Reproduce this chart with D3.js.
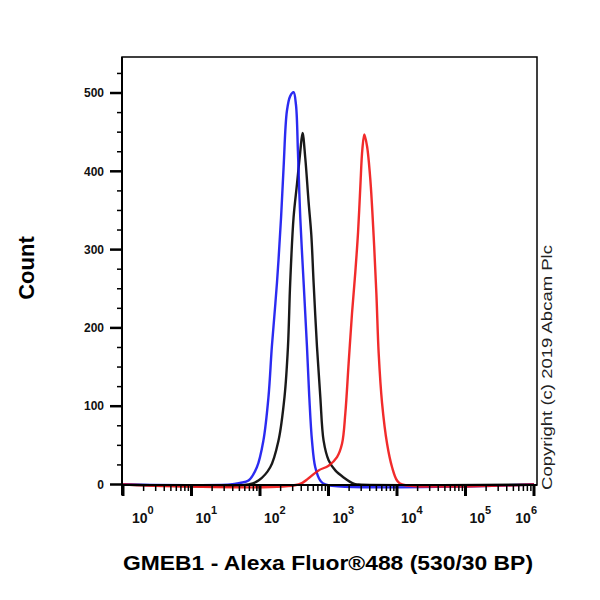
<!DOCTYPE html>
<html>
<head>
<meta charset="utf-8">
<script src="https://cdn.jsdelivr.net/npm/d3@7"></script>
<style>
  body { margin: 0; background: #ffffff; }
  #histogram-div { width: 600px; height: 600px; }
  text { font-family: Arial, "Liberation Sans", sans-serif; }
</style>
</head>
<body>
<div id="histogram-div"></div>
<script>
// --- Data (fluorescence intensity vs event count) ---
const blueX = [1, 36.7, 51, 68, 90, 112, 133, 149, 177, 203, 221, 247, 276, 309, 335, 358, 387, 432, 485, 524, 574, 641, 759, 898, 1e6];
const blueY = [0, 0, 2, 5, 22, 56, 112, 176, 258, 341, 405, 477, 496, 501, 485, 425, 341, 260, 176, 112, 56, 22, 5, 0, 0];

const blackX = [1, 68, 95, 141, 186, 228, 256, 276, 309, 346, 387, 418, 458, 512, 561, 606, 679, 759, 848, 1004, 1257, 1662, 2328, 2754, 1e6];
const blackY = [0, 0, 5, 22, 56, 112, 176, 258, 341, 383, 425, 449, 417, 361, 319, 258, 176, 112, 56, 31, 18, 9, 1, 0, 0];

const redX = [1, 365, 512, 716, 1003, 1331, 1575, 1761, 1968, 2206, 2466, 2700, 2917, 3120, 3337, 3654, 4083, 4563, 5000, 5399, 6053, 7165, 8477, 10027, 11870, 1e6];
const redY = [0, 0, 8, 18, 24, 35, 52, 91, 155, 219, 272, 322, 381, 428, 447, 432, 389, 317, 244, 168, 104, 52, 22, 5, 0, 0];

const yMajorTicks = [0, 100, 200, 300, 400, 500];
const yMinorTicks = [25, 50, 75, 125, 150, 175, 225, 250, 275, 325, 350, 375, 425, 450, 475, 525];
const xDecades = [0, 1, 2, 3, 4, 5, 6];

const seriesList = [
  { name: 'black', xs: blackX, ys: blackY, color: '#000000' },
  { name: 'blue', xs: blueX, ys: blueY, color: '#1414f0' },
  { name: 'red', xs: redX, ys: redY, color: '#f01414' }
];

function createHistogram() {
  const targetDivId = 'histogram-div';
  const container = d3.select(`#${targetDivId}`);
  container.select('svg').remove();

  const frame = { left: 122, right: 537, top: 57, bottom: 485 };

  const svg = container.append('svg')
    .attr('width', 600)
    .attr('height', 600)
    .style('background-color', '#ffffff');

  // --- Scales ---
  const x = d3.scaleLog().domain([1, 1e6]).range([123, 534]);
  const y = d3.scaleLinear().domain([0, 546]).range([484.5, frame.top]);

  // --- Frame ---
  svg.append('rect')
    .attr('x', frame.left)
    .attr('y', frame.top)
    .attr('width', frame.right - frame.left)
    .attr('height', frame.bottom - frame.top)
    .attr('fill', 'none')
    .attr('stroke', '#000')
    .attr('stroke-width', 1.5);

  // --- Curves ---
  const line = d3.line()
    .x(d => x(d[0]))
    .y(d => Math.min(y(0), y(d[1])))
    .curve(d3.curveCatmullRom.alpha(0.5));

  svg.selectAll('path.curve')
    .data(seriesList)
    .enter().append('path')
    .attr('class', 'curve')
    .attr('d', s => line(s.xs.map((v, i) => [v, s.ys[i]])))
    .attr('fill', 'none')
    .attr('stroke', s => s.color)
    .attr('stroke-width', 2.4)
    .attr('stroke-linejoin', 'round')
    .attr('opacity', 0.9);

  // --- Y axis ---
  svg.append('line')
    .attr('x1', frame.left).attr('x2', frame.left)
    .attr('y1', frame.top).attr('y2', 495)
    .attr('stroke', '#000').attr('stroke-width', 2);

  svg.selectAll('line.ymajor')
    .data(yMajorTicks)
    .enter().append('line')
    .attr('class', 'ymajor')
    .attr('x1', frame.left - 12).attr('x2', frame.left)
    .attr('y1', d => y(d)).attr('y2', d => y(d))
    .attr('stroke', '#000').attr('stroke-width', 2.5);

  svg.selectAll('line.yminor')
    .data(yMinorTicks)
    .enter().append('line')
    .attr('class', 'yminor')
    .attr('x1', frame.left - 5).attr('x2', frame.left)
    .attr('y1', d => y(d)).attr('y2', d => y(d))
    .attr('stroke', '#000').attr('stroke-width', 1.5);

  svg.selectAll('text.ylabel')
    .data(yMajorTicks)
    .enter().append('text')
    .attr('class', 'ylabel')
    .attr('x', 104)
    .attr('y', d => y(d))
    .attr('dy', '0.35em')
    .attr('text-anchor', 'end')
    .style('font-size', '12px')
    .style('font-weight', 'bold')
    .style('fill', '#111')
    .text(d => d);

  // --- X axis ---
  svg.append('line')
    .attr('x1', frame.left).attr('x2', frame.right)
    .attr('y1', frame.bottom).attr('y2', frame.bottom)
    .attr('stroke', '#000').attr('stroke-width', 2);

  const minorX = [];
  xDecades.slice(0, -1).forEach(p => {
    for (let m = 2; m <= 9; m++) minorX.push(m * Math.pow(10, p));
  });

  svg.selectAll('line.xminor')
    .data(minorX)
    .enter().append('line')
    .attr('class', 'xminor')
    .attr('x1', d => x(d)).attr('x2', d => x(d))
    .attr('y1', frame.bottom).attr('y2', frame.bottom + 6)
    .attr('stroke', '#000').attr('stroke-width', 1.5);

  svg.selectAll('line.xmajor')
    .data(xDecades)
    .enter().append('line')
    .attr('class', 'xmajor')
    .attr('x1', d => x(Math.pow(10, d))).attr('x2', d => x(Math.pow(10, d)))
    .attr('y1', frame.bottom).attr('y2', frame.bottom + 11)
    .attr('stroke', '#000').attr('stroke-width', 3);

  const xLabels = svg.selectAll('text.xlabel')
    .data(xDecades)
    .enter().append('text')
    .attr('class', 'xlabel')
    .attr('x', (d, i) => {
      const px = x(Math.pow(10, d));
      if (i === xDecades.length - 1) return px + 3;
      return px + (i === 0 ? 9 : 4);
    })
    .attr('y', 523)
    .attr('text-anchor', (d, i) => i === xDecades.length - 1 ? 'end' : 'start')
    .style('font-size', '14px')
    .style('font-weight', 'bold')
    .style('fill', '#111');

  xLabels.append('tspan').text('10');
  xLabels.append('tspan')
    .attr('dy', -9)
    .style('font-size', '11px')
    .text(d => d);

  // --- Titles ---
  svg.append('text')
    .attr('transform', 'translate(34, 268) rotate(-90)')
    .attr('text-anchor', 'middle')
    .style('font-size', '22px')
    .style('font-weight', 'bold')
    .style('fill', '#000')
    .text('Count');

  svg.append('text')
    .attr('x', 123)
    .attr('y', 570)
    .attr('textLength', 410)
    .attr('lengthAdjust', 'spacingAndGlyphs')
    .style('font-size', '21px')
    .style('font-weight', 'bold')
    .style('fill', '#000')
    .text('GMEB1 - Alexa Fluor®488 (530/30 BP)');

  svg.append('text')
    .attr('transform', 'translate(552, 490) rotate(-90)')
    .attr('textLength', 245)
    .attr('lengthAdjust', 'spacingAndGlyphs')
    .style('font-size', '15px')
    .style('fill', '#222')
    .text('Copyright (c) 2019 Abcam Plc');
}

createHistogram();
</script>
</body>
</html>
